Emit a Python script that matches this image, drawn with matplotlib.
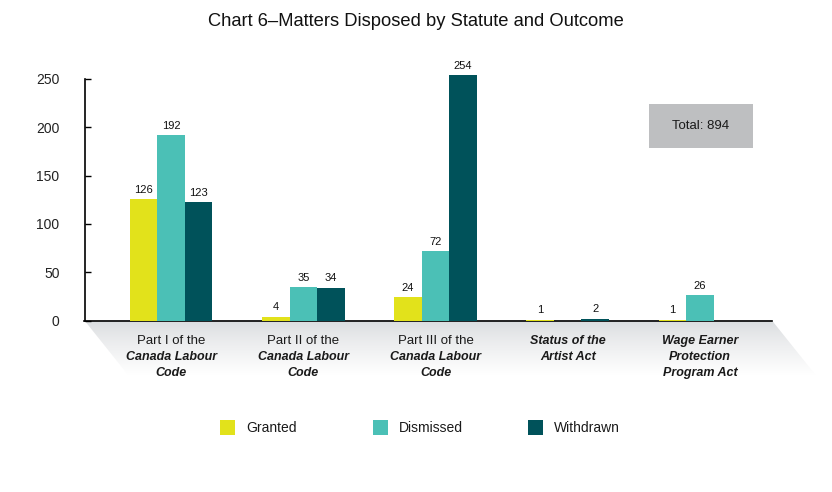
import matplotlib
matplotlib.use("Agg")
import matplotlib.pyplot as plt
import numpy as np
from matplotlib.patches import Polygon, Rectangle

plt.rcParams['font.family'] = ['Liberation Sans', 'DejaVu Sans']

# ---- data ----
category_lines = [
    ["Part I of the", "Canada Labour", "Code"],
    ["Part II of the", "Canada Labour", "Code"],
    ["Part III of the", "Canada Labour", "Code"],
    ["Status of the", "Artist Act"],
    ["Wage Earner", "Protection", "Program Act"],
]
category_styles = [
    ["normal", "italic", "italic"],
    ["normal", "italic", "italic"],
    ["normal", "italic", "italic"],
    ["italic", "italic"],
    ["italic", "italic", "italic"],
]
series_names = ["Granted", "Dismissed", "Withdrawn"]
granted = [126, 4, 24, 1, 1]
dismissed = [192, 35, 72, None, 26]
withdrawn = [123, 34, 254, 2, None]
series_values = [granted, dismissed, withdrawn]
colors = ["#E2E21B", "#4BC0B6", "#00525A"]
yticks = [0, 50, 100, 150, 200, 250]
title = "Chart 6\u2013Matters Disposed by Statute and Outcome"
total_text = "Total: 894"

W, H = 832, 492
fig = plt.figure(figsize=(W / 100, H / 100), dpi=100)

# background decoration axes (pixel coordinates)
bg = fig.add_axes([0, 0, 1, 1], zorder=-5)
bg.axis('off')

ax_l, ax_r, ax_t, ax_b = 84.5, 772, 79, 320.5
ax = fig.add_axes([ax_l / W, 1 - ax_b / H, (ax_r - ax_l) / W, (ax_b - ax_t) / H])
ax.patch.set_alpha(0)

# floor shadow under x axis
depth = 55
slope = 0.8
poly = Polygon([[ax_l, ax_b], [ax_r, ax_b], [ax_r + depth * slope, ax_b + depth],
                [ax_l + depth * slope, ax_b + depth]], closed=True,
               facecolor='none', edgecolor='none')
bg.add_patch(poly)
grad = np.linspace(0, 1, 256).reshape(-1, 1) ** 0.8
top_c = np.array([0.85, 0.86, 0.87])
img = top_c[None, None, :] * (1 - grad[:, :, None]) + 1.0 * grad[:, :, None]
im = bg.imshow(img, extent=[ax_l, ax_r + depth * slope, ax_b + depth, ax_b],
               aspect='auto', interpolation='bilinear')
im.set_clip_path(poly)
bg.set_xlim(0, W)
bg.set_ylim(H, 0)

# bars
n = len(category_lines)
x = np.arange(n)
bw = 0.208
offsets = [-bw, 0, bw]
for vals, off, col in zip(series_values, offsets, colors):
    for xi, v in zip(x, vals):
        if v is None:
            continue
        ax.bar(xi + off, v, width=bw, color=col, clip_on=False, zorder=3)
        ax.annotate(str(v), (xi + off, v), xytext=(0, 3), textcoords='offset points',
                    ha='center', va='bottom', fontsize=8, color='#111111',
                    annotation_clip=False)

ax.set_xlim(-0.655, 4.545)
ax.set_ylim(0, 250)
ax.set_yticks(yticks)
ax.set_yticklabels([str(t) for t in yticks])
ax.tick_params(axis='y', direction='in', length=4, width=1, pad=18,
               labelsize=10, labelcolor='#222222')
ax.set_xticks([])
for s in ['top', 'right']:
    ax.spines[s].set_visible(False)
for s in ['left', 'bottom']:
    ax.spines[s].set_linewidth(1.2)
    ax.spines[s].set_color('black')

# category labels
for xi, lines, styles in zip(x, category_lines, category_styles):
    for k, (line, st) in enumerate(zip(lines, styles)):
        it = st == 'italic'
        ax.annotate(line, (xi, 0), xycoords=('data', 'axes fraction'),
                    xytext=(0, -14.5 - 11.5 * k), textcoords='offset points',
                    ha='center', va='center', fontsize=9 if it else 9.5,
                    fontstyle=st, fontweight='bold' if it else 'normal',
                    color='#1a1a1a', annotation_clip=False)

# title
fig.text(0.5, 1 - 22 / H, title, ha='center', va='center', fontsize=13.2, color='#111111')

# total box
bg.add_patch(Rectangle((649, 104), 104, 44, facecolor='#BEBFC1', edgecolor='none'))
bg.text(701, 126, total_text, ha='center', va='center', fontsize=9.5, color='#1a1a1a')

# legend
leg_x = [220, 373, 528]
for lx, name, col in zip(leg_x, series_names, colors):
    bg.add_patch(Rectangle((lx, 420), 15, 15, facecolor=col, edgecolor='none'))
    bg.text(lx + 26, 428, name, ha='left', va='center', fontsize=10, color='#1a1a1a')

fig.savefig("out.png", dpi=100)
